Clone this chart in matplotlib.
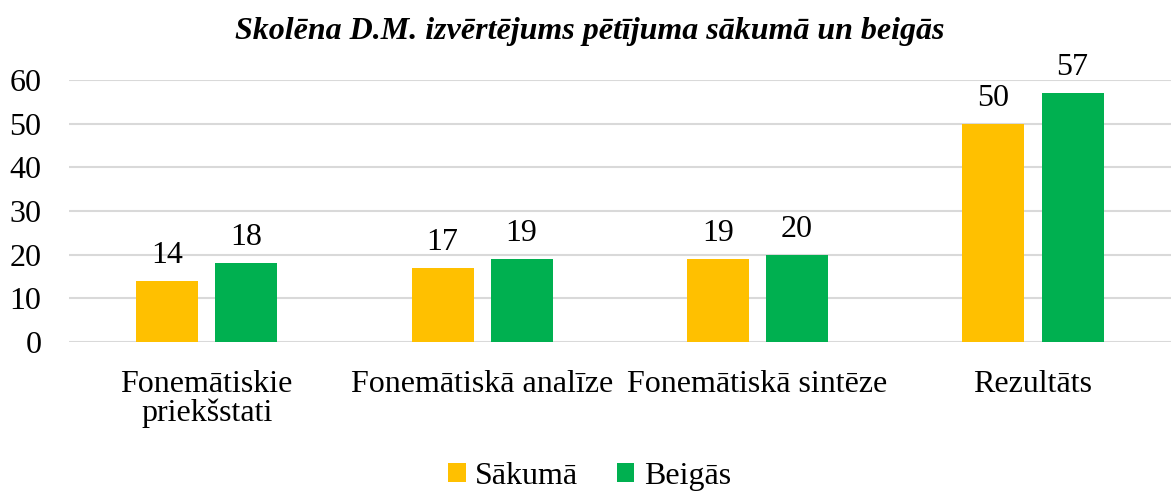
import numpy as np
import matplotlib
matplotlib.use("Agg")
import matplotlib.pyplot as plt

categories = ["Fonemātiskie\npriekšstati", "Fonemātiskā analīze", "Fonemātiskā sintēze", "Rezultāts"]
sakuma = [14, 17, 19, 50]
beigas = [18, 19, 20, 57]
series_names = ["Sākumā", "Beigās"]
title = "Skolēna D.M. izvērtējums pētījuma sākumā un beigās"

plt.rcParams['font.family'] = ['Liberation Serif', 'DejaVu Serif']

fig = plt.figure(figsize=(11.72, 4.92), dpi=100)
ax = fig.add_axes([0.0589, 0.305, 0.94, 0.532])

x = np.arange(len(categories))
w = 0.225
gap = 0.062
off = (w + gap) / 2
b1 = ax.bar(x - off, sakuma, w, color="#FFC000", label=series_names[0], zorder=3)
b2 = ax.bar(x + off, beigas, w, color="#00B050", label=series_names[1], zorder=3)

for bars in (b1, b2):
    for r in bars:
        ax.annotate(str(int(r.get_height())), (r.get_x() + r.get_width() / 2, r.get_height()),
                    xytext=(0, 8), textcoords="offset points", ha="center", va="bottom",
                    fontsize=23, annotation_clip=False)

ax.set_xlim(-0.5, len(categories) - 0.5)
ax.set_ylim(0, 60)
ax.set_yticks(range(0, 61, 10))
ax.yaxis.grid(True, color="#D9D9D9", linewidth=1.5, zorder=0)
ax.set_axisbelow(True)
for s in ax.spines.values():
    s.set_visible(False)
ax.tick_params(axis="both", length=0, labelsize=23)
ax.tick_params(axis="y", pad=20)
ax.tick_params(axis="x", pad=20)
ax.set_xticks(x)
ax.set_xticklabels(categories, linespacing=1.0)

fig.text(0.503, 0.935, title, ha="center", va="center", fontsize=23,
         fontweight="bold", fontstyle="italic")

fig.legend(loc="center", bbox_to_anchor=(0.503, 0.032), ncol=2, frameon=False,
           fontsize=23, handlelength=0.55, handleheight=0.55, handletextpad=0.3,
           columnspacing=1.2)

fig.savefig("out.png", dpi=100)
